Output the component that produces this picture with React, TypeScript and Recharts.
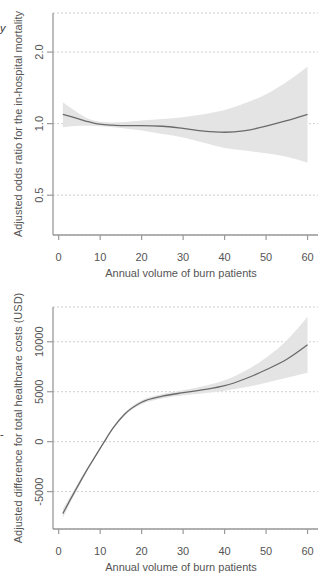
import React from 'react';
import { ComposedChart, Area, Line, XAxis, YAxis, CartesianGrid } from 'recharts';

// annual volume of burn patients (x positions)
const volumes = [1, 3, 5, 7, 9, 11, 13, 16, 20, 25, 30, 35, 40, 45, 50, 55, 60];

// adjusted odds ratio for in-hospital mortality
const orEstimate = [1.095, 1.07, 1.045, 1.02, 1.0, 0.99, 0.985, 0.98, 0.98, 0.975, 0.955, 0.93, 0.92, 0.935, 0.975, 1.03, 1.095];
const orUpper = [1.23, 1.16, 1.1, 1.05, 1.025, 1.015, 1.01, 1.015, 1.03, 1.045, 1.065, 1.095, 1.14, 1.22, 1.33, 1.5, 1.74];
const orLower = [0.965, 0.975, 0.98, 0.98, 0.978, 0.972, 0.965, 0.955, 0.935, 0.905, 0.875, 0.83, 0.79, 0.77, 0.75, 0.725, 0.685];

// adjusted difference for total healthcare costs (USD)
const costEstimate = [-7200, -5650, -4150, -2700, -1350, 0, 1300, 2800, 3950, 4550, 4900, 5200, 5600, 6300, 7200, 8250, 9700];
const costUpper = [-6750, -5350, -3920, -2540, -1230, 110, 1420, 2950, 4150, 4780, 5160, 5570, 6150, 7100, 8400, 10150, 12500];
const costLower = [-7650, -5950, -4380, -2860, -1470, -110, 1180, 2650, 3750, 4320, 4640, 4850, 5100, 5450, 5900, 6400, 6900];

const xTicks = [0, 10, 20, 30, 40, 50, 60];
const orTicks = [0.5, 1.0, 2.0];
const costTicks = [-5000, 0, 5000, 10000];

const orData = volumes.map((v, i) => ({ v, est: orEstimate[i], lo: orLower[i], hi: orUpper[i] }));
const costData = volumes.map((v, i) => ({ v, est: costEstimate[i], lo: costLower[i], hi: costUpper[i] }));

const FONT = '"Liberation Sans", Arial, sans-serif';
const TXT = '#555';
const BOX = '#9a9a9a';

const XTick = (props: any) => {
    const { x, y, payload } = props;
    return (
        <text x={x} y={y + 15} dy="0.35em" textAnchor="middle" fontSize={11} fontFamily={FONT} fill={TXT}>
            {payload.value}
        </text>
    );
};

const makeYTick = (fmt: (v: number) => string) => (props: any) => {
    const { x, y, payload } = props;
    const cx = x - 6;
    return (
        <text
            x={cx}
            y={y}
            dy="0.35em"
            textAnchor="middle"
            transform={`rotate(-90, ${cx}, ${y})`}
            fontSize={11}
            fontFamily={FONT}
            fill={TXT}
        >
            {fmt(payload.value)}
        </text>
    );
};

interface PanelProps {
    data: any[];
    top: number;
    yDomain: [number, number];
    yTicks: number[];
    log?: boolean;
    fmt: (v: number) => string;
}

const Panel: React.FC<PanelProps> = ({ data, top, yDomain, yTicks, log, fmt }) => (
    <div style={{ position: 'absolute', left: 0, top }}>
        <ComposedChart width={330} height={290} data={data} margin={{ top: 13, right: 10, left: 13, bottom: 15 }}>
            <CartesianGrid vertical={false} stroke="#cfcfcf" strokeDasharray="2 2" />
            <XAxis
                dataKey="v"
                type="number"
                domain={[-1.37, 63]}
                ticks={xTicks}
                allowDataOverflow
                height={40}
                tickSize={5}
                axisLine={{ stroke: BOX, strokeWidth: 1.3 }}
                tickLine={{ stroke: BOX, strokeWidth: 1.2 }}
                tick={<XTick />}
            />
            <XAxis
                xAxisId="top"
                orientation="top"
                dataKey="v"
                type="number"
                domain={[-1.37, 63]}
                height={0}
                tick={false}
                tickLine={false}
                axisLine={{ stroke: BOX, strokeWidth: 1.3 }}
            />
            <YAxis
                type="number"
                scale={log ? 'log' : 'auto'}
                domain={yDomain}
                ticks={yTicks}
                allowDataOverflow
                width={40}
                tickSize={6}
                axisLine={{ stroke: BOX, strokeWidth: 1.3 }}
                tickLine={{ stroke: BOX, strokeWidth: 1.2 }}
                tick={makeYTick(fmt)}
            />
            <Area
                type="monotone"
                dataKey={(d: any) => [d.lo, d.hi]}
                fill="#e4e4e4"
                fillOpacity={1}
                stroke="none"
                isAnimationActive={false}
            />
            <Line type="monotone" dataKey="est" stroke="#6a6a6a" strokeWidth={1.3} dot={false} isAnimationActive={false} />
        </ComposedChart>
    </div>
);

const App: React.FC = () => (
    <div style={{ position: 'fixed', left: 0, top: 0, width: 318, height: 575, overflow: 'hidden', background: '#fff' }}>
        <Panel data={orData} top={0} yDomain={[0.34, 2.92]} yTicks={orTicks} log fmt={(v) => v.toFixed(1)} />
        <Panel data={costData} top={294} yDomain={[-8745, 13484]} yTicks={costTicks} fmt={(v) => String(v)} />
        <svg width={318} height={575} style={{ position: 'absolute', left: 0, top: 0, pointerEvents: 'none' }}>
            <g fontFamily={FONT} fontSize={11} fill={TXT}>
                <text x={181} y={273} dy="0.35em" textAnchor="middle">Annual volume of burn patients</text>
                <text x={181} y={567} dy="0.35em" textAnchor="middle">Annual volume of burn patients</text>
                <text x={18} y={124} dy="0.35em" textAnchor="middle" transform="rotate(-90, 18, 124)">
                    Adjusted odds ratio for the in-hospital mortality
                </text>
                <text x={18} y={418} dy="0.35em" textAnchor="middle" transform="rotate(-90, 18, 418)">
                    Adjusted difference for total healthcare costs (USD)
                </text>
                <text x={0} y={28} dy="0.35em" fontSize={11} fontStyle="italic" fill="#333">y</text>
                <text x={0} y={434} dy="0.35em" fontSize={11} fill="#333">-</text>
            </g>
        </svg>
    </div>
);

export default App;
